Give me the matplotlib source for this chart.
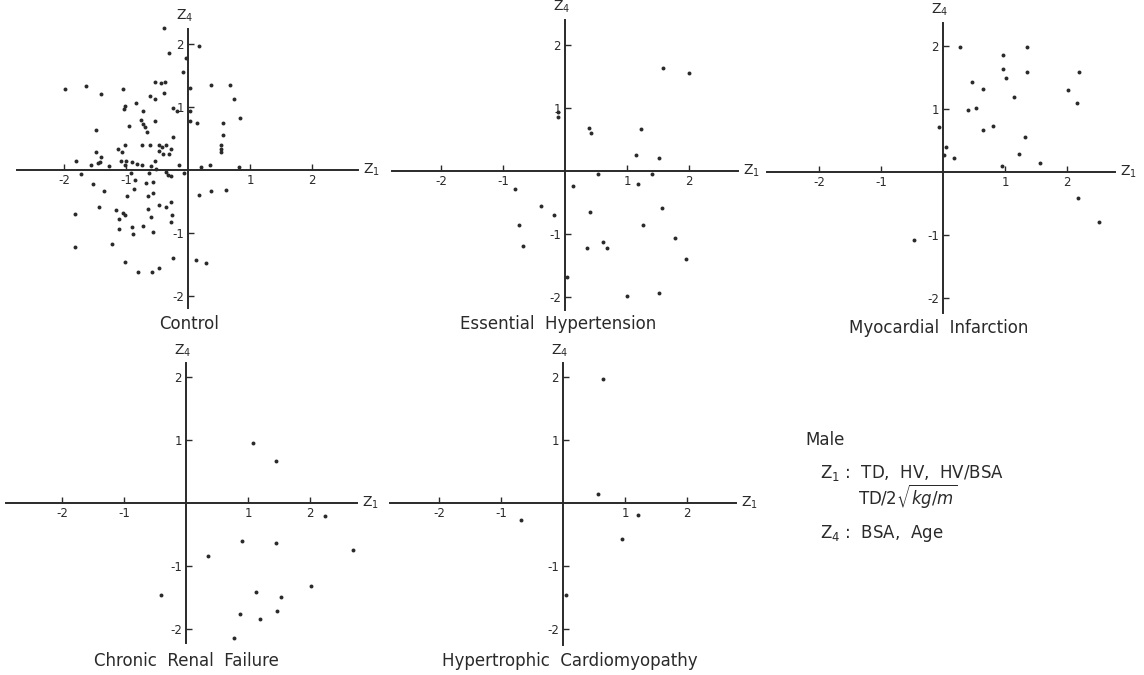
import matplotlib
matplotlib.use("Agg")
import matplotlib.pyplot as plt

plt.rcParams["axes.unicode_minus"] = False
plt.rcParams["font.family"] = ["DejaVu Sans"]

# ---- data (Z1, Z4) ----
control_z1 = [-0.39, 0.17, -0.30, -0.04, -0.08, -1.98, -1.65, -1.41, -1.05, -0.53,
              -0.43, -0.37, -0.38, -0.62, -0.53, -0.84, -1.02, -1.03, -0.25, -0.17,
              0.04, 0.04, 0.37, 0.67, 0.74, 0.84, 0.56, 0.14, 0.03, -0.73,
              -0.76, -0.73, -0.53, -0.69, -0.95, -0.66, -1.49, -0.24, 0.56, 0.54,
              0.54, 0.54, -1.48, -1.02, -1.13, -1.07, -0.75, -0.62, -0.47, -0.42,
              -0.36, -0.28, -0.46, -0.41, -0.30, -0.53, -1.40, -1.42, -1.45, -1.81,
              -1.57, -1.28, -1.08, -1.00, -0.91, -0.83, -0.74, -0.59, -1.02, -0.15,
              0.21, 0.36, 0.83, -1.72, -0.92, -0.63, -0.51, -0.35, -0.32, -0.27,
              -0.06, -1.54, -0.86, -0.68, -0.56, -1.35, -0.87, -0.56, -0.64, -0.98,
              0.18, 0.37, 0.62, -1.44, -1.82, -1.16, -1.12, -1.05, -1.02, -0.64,
              -0.47, -0.36, -0.27, -0.26, -0.27, -0.60, -1.11, -0.90, -0.72, -0.88,
              -0.56, -1.22, -1.83, -1.01, -0.81, -0.58, -0.47, -0.25, 0.13, 0.29]
control_z4 = [2.25, 1.97, 1.86, 1.77, 1.56, 1.29, 1.34, 1.21, 1.28, 1.40,
              1.38, 1.40, 1.23, 1.17, 1.12, 1.07, 1.01, 0.97, 0.99, 0.94,
              1.30, 0.93, 1.35, 1.35, 1.13, 0.82, 0.75, 0.75, 0.78, 0.94,
              0.79, 0.73, 0.78, 0.68, 0.70, 0.61, 0.63, 0.53, 0.55, 0.39,
              0.34, 0.29, 0.29, 0.39, 0.33, 0.28, 0.39, 0.39, 0.39, 0.37,
              0.39, 0.33, 0.30, 0.26, 0.25, 0.14, 0.20, 0.13, 0.11, 0.15,
              0.08, 0.06, 0.14, 0.15, 0.12, 0.10, 0.08, 0.07, 0.08, 0.08,
              0.04, 0.08, 0.04, -0.07, -0.04, -0.04, 0.01, -0.03, -0.08, -0.10,
              -0.05, -0.23, -0.16, -0.21, -0.19, -0.33, -0.30, -0.36, -0.42, -0.42,
              -0.39, -0.33, -0.31, -0.58, -0.70, -0.63, -0.77, -0.69, -0.72, -0.62,
              -0.56, -0.59, -0.51, -0.71, -0.82, -0.75, -0.93, -0.90, -0.89, -1.02,
              -0.99, -1.17, -1.23, -1.46, -1.62, -1.62, -1.55, -1.39, -1.43, -1.47]

eh_z1 = [1.58, 2.00, -0.12, -0.12, 0.38, 0.42, 1.23, 1.15, 1.52, 0.54,
         1.41, 1.17, -0.81, 0.13, -0.38, -0.17, 0.40, 1.57, -0.74, 1.26,
         -0.68, 0.35, 0.61, 0.67, 1.77, 1.95, 0.04, 1.00, 1.51]
eh_z4 = [1.64, 1.56, 0.94, 0.86, 0.68, 0.61, 0.66, 0.25, 0.21, -0.05,
         -0.04, -0.21, -0.28, -0.24, -0.56, -0.70, -0.65, -0.59, -0.86, -0.85,
         -1.19, -1.23, -1.13, -1.23, -1.07, -1.39, -1.68, -1.99, -1.93]

mi_z1 = [0.28, 1.35, 0.97, 0.97, 1.01, 1.35, 2.20, 0.47, 0.65, 1.15,
         2.02, 2.16, 0.41, 0.53, -0.07, 0.64, 0.80, 1.33, 0.05, 0.02,
         0.18, 1.22, 1.56, 0.95, 2.18, 2.51, -0.46]
mi_z4 = [1.99, 1.98, 1.85, 1.63, 1.49, 1.59, 1.59, 1.43, 1.32, 1.19,
         1.30, 1.10, 0.98, 1.01, 0.72, 0.67, 0.73, 0.56, 0.40, 0.27,
         0.23, 0.28, 0.15, 0.10, -0.42, -0.80, -1.08]

crf_z1 = [1.08, 1.45, 2.24, 0.90, 1.45, 2.70, 0.36, -0.40, 1.13, 1.53,
          2.02, 0.87, 1.47, 1.20, 0.78]
crf_z4 = [0.96, 0.67, -0.20, -0.61, -0.63, -0.74, -0.84, -1.46, -1.41, -1.49,
          -1.31, -1.76, -1.72, -1.84, -2.14]

hc_z1 = [0.64, 0.56, -0.68, 1.21, 0.95, 0.05]
hc_z4 = [1.97, 0.15, -0.27, -0.19, -0.57, -1.46]

titles = ["Control", "Essential  Hypertension", "Myocardial  Infarction",
          "Chronic  Renal  Failure", "Hypertrophic  Cardiomyopathy"]
ticks = [-2, -1, 1, 2]

# ---- layout: origin in pixels, axis extents in data units ----
W, H = 1144, 675
PX, PY = 62.0, 63.0  # pixels per unit
panels = [
    (control_z1, control_z4, (188, 170), (-2.76, 2.74), (-2.19, 2.24), (189, 324)),
    (eh_z1, eh_z4, (565, 171), (-2.79, 2.79), (-2.20, 2.40), (558, 324)),
    (mi_z1, mi_z4, (943, 172), (-2.84, 2.77), (-2.24, 2.37), (939, 328)),
    (crf_z1, crf_z4, (186, 503), (-2.90, 2.76), (-2.22, 2.22), (186, 661)),
    (hc_z1, hc_z4, (563, 503), (-2.79, 2.79), (-2.25, 2.22), (570, 661)),
]

ink = "#2a2a2a"
fig = plt.figure(figsize=(W / 100, H / 100), dpi=100)

for (xs, ys, (ox, oy), xl, yl, (tx, ty)), title in zip(panels, titles):
    left = (ox + xl[0] * PX) / W
    width = (xl[1] - xl[0]) * PX / W
    bottom = (H - (oy - yl[0] * PY)) / H
    height = (yl[1] - yl[0]) * PY / H
    ax = fig.add_axes([left, bottom, width, height])
    ax.set_xlim(*xl)
    ax.set_ylim(*yl)
    ax.patch.set_alpha(0)
    for s in ("top", "right"):
        ax.spines[s].set_visible(False)
    ax.spines["left"].set_position(("data", 0))
    ax.spines["bottom"].set_position(("data", 0))
    for s in ("left", "bottom"):
        ax.spines[s].set_linewidth(1.4)
        ax.spines[s].set_color(ink)
    ax.set_xticks(ticks)
    ax.set_yticks(ticks)
    ax.tick_params(direction="in", length=4, width=1, colors=ink,
                   labelsize=8.5, pad=3)
    ax.scatter(xs, ys, s=8, color=ink, linewidths=0, clip_on=False, zorder=3)
    ax.text(xl[1] + 0.08, 0, "Z$_1$", ha="left", va="center",
            fontsize=10, color=ink)
    ax.text(-0.05, yl[1] + 0.07, "Z$_4$", ha="center", va="bottom",
            fontsize=10, color=ink)
    fig.text(tx / W, 1 - ty / H, title, ha="center", va="center",
             fontsize=12, color=ink)

# ---- legend text block ----
fig.text(805 / W, 1 - 440 / H, "Male", ha="left", va="center",
         fontsize=12, color=ink)
fig.text(820 / W, 1 - 473 / H, "Z$_1$ :  TD,  HV,  HV/BSA", ha="left",
         va="center", fontsize=12, color=ink)
fig.text(858 / W, 1 - 497 / H, r"TD/2$\sqrt{kg/m}$", ha="left",
         va="center", fontsize=12, color=ink)
fig.text(820 / W, 1 - 533 / H, "Z$_4$ :  BSA,  Age", ha="left",
         va="center", fontsize=12, color=ink)

fig.savefig("out.png", dpi=100, facecolor="white")
